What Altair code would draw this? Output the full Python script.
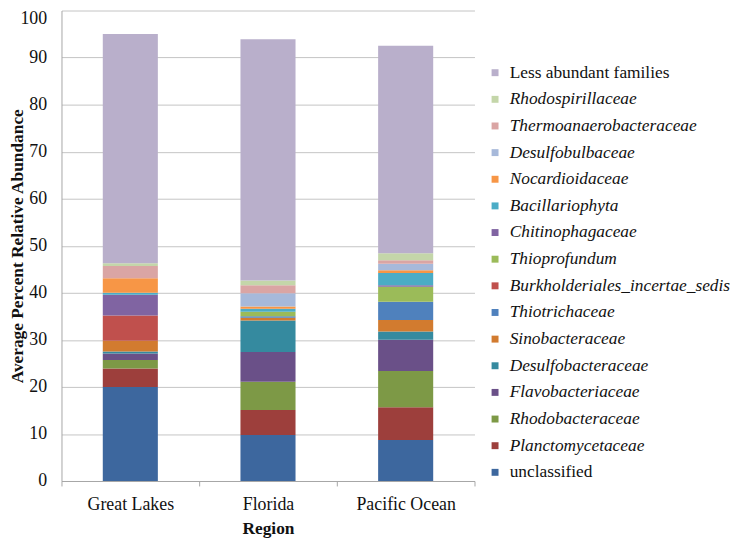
import altair as alt
import pandas as pd

regions = ["Great Lakes", "Florida", "Pacific Ocean"]

# bottom-to-top stacking order
families = [
    "unclassified",
    "Planctomycetaceae",
    "Rhodobacteraceae",
    "Flavobacteriaceae",
    "Desulfobacteraceae",
    "Sinobacteraceae",
    "Thiotrichaceae",
    "Burkholderiales_incertae_sedis",
    "Thioprofundum",
    "Chitinophagaceae",
    "Bacillariophyta",
    "Nocardioidaceae",
    "Desulfobulbaceae",
    "Thermoanaerobacteraceae",
    "Rhodospirillaceae",
    "Less abundant families",
]

great_lakes = [20.0, 3.9, 1.8, 1.4, 0.4, 2.3, 0.0, 5.4, 0.0, 4.4, 0.4, 3.1, 0.0, 2.6, 0.6, 48.7]
florida = [9.8, 5.3, 6.0, 6.3, 6.7, 0.6, 0.3, 0.0, 1.0, 0.0, 0.6, 0.5, 2.8, 1.7, 1.0, 51.3]
pacific_ocean = [8.7, 7.0, 7.7, 6.6, 1.8, 2.4, 3.9, 0.0, 3.2, 0.3, 2.6, 0.6, 1.4, 0.7, 1.5, 44.1]

colors = [
    "#3D679E", "#9D3F3C", "#7D9946", "#6A5088", "#358A9F", "#D27B2F",
    "#4F81BD", "#C0504D", "#9BBB59", "#8064A2", "#4BACC6", "#F79646",
    "#A7B9DA", "#DAA5A4", "#C4D6A9", "#B9AFCB",
]

rows = []
for region, vals in zip(regions, [great_lakes, florida, pacific_ocean]):
    for i, (fam, v) in enumerate(zip(families, vals)):
        rows.append({"Region": region, "Family": fam, "Value": v, "Order": i})
df = pd.DataFrame(rows)

FONT = "Liberation Serif"
TXT = "#111111"
GRID = "#C4C4C4"

italic_expr = ("datum.label == 'unclassified' || datum.label == 'Less abundant families'"
               " ? 'normal' : 'italic'")

chart = alt.Chart(df).mark_bar(width=alt.RelativeBandSize(0.4)).encode(
    x=alt.X(
        "Region:N",
        sort=regions,
        scale=alt.Scale(paddingInner=0, paddingOuter=0),
        axis=alt.Axis(
            title="Region", labelAngle=0, tickBand="extent", tickSize=5,
            tickColor="#A6A6A6", domainColor="#A6A6A6", labelFont=FONT,
            labelFontSize=18, labelColor=TXT, labelPadding=10, titleFont=FONT,
            titleFontSize=17.5, titleFontWeight="bold", titleColor=TXT,
            titlePadding=6, grid=False,
        ),
    ),
    y=alt.Y(
        "Value:Q",
        stack="zero",
        scale=alt.Scale(domain=[0, 100], nice=False),
        axis=alt.Axis(
            values=list(range(0, 101, 10)), title="Average Percent Relative Abundance",
            ticks=False, domainColor="#A6A6A6", gridColor=GRID, labelFont=FONT,
            labelFontSize=18, labelColor=TXT, labelPadding=15,
            labelOffset={"condition": {"test": "datum.value == 100", "value": 8}, "value": 0},
            titleFont=FONT,
            titleFontSize=17.5, titleFontWeight="bold", titleColor=TXT,
            titleX=-35, titleY=237.5, titleAngle=270, titleAlign="center",
            titleBaseline="bottom",
        ),
    ),
    color=alt.Color(
        "Family:N",
        scale=alt.Scale(domain=families[::-1], range=colors[::-1]),
        legend=alt.Legend(
            title=None, orient="none", legendX=429, legendY=54, padding=0,
            symbolType="square", symbolSize=49, symbolStrokeWidth=0,
            labelFont=FONT, labelFontSize=17.5, labelColor=TXT, labelOffset=6,
            rowPadding=7.9, labelLimit=320,
            labelFontStyle={"expr": italic_expr},
        ),
    ),
    order=alt.Order("Order:Q", sort="ascending"),
).properties(
    width=417,
    height=475,
    autosize=alt.AutoSizeParams(type="none"),
    padding={"left": 54, "top": 0, "right": 262, "bottom": 56},
).configure_view(stroke=None)

chart.save("out.html", embed_options={"renderer": "svg", "actions": False})
